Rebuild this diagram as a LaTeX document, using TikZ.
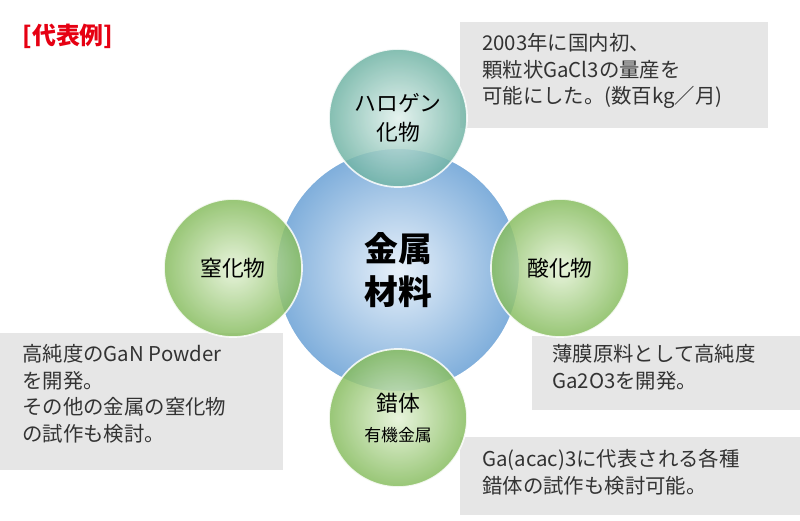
\documentclass[tikz,border=0pt]{standalone}
\usepackage{fontspec}
\setmainfont{Noto Sans CJK JP}
\usetikzlibrary{positioning}
\definecolor{boxgray}{HTML}{E6E6E6}
\definecolor{redtxt}{HTML}{E60012}
\definecolor{greenin}{HTML}{E4F2D6}
\definecolor{greenout}{HTML}{86BC5E}
\definecolor{tealin}{HTML}{E0F0EC}
\definecolor{tealout}{HTML}{6FB3A4}
\definecolor{bluein}{HTML}{E8F1FA}
\definecolor{blueout}{HTML}{7FAEDB}
\begin{document}
\begin{tikzpicture}[x=0.025cm,y=-0.025cm,
   note/.style={fill=boxgray,anchor=north west,align=left,inner sep=0pt,
    font=\fontsize{14.5}{19}\selectfont,text=black!80},
   ball/.style={circle,draw=white,line width=1.2pt,
    font=\fontsize{15.5}{21}\selectfont,align=center,opacity=0.85,text opacity=1},
   core/.style={circle,draw=white,line width=1.5pt,minimum size=6.1cm,
    inner color=bluein,outer color=blueout,font=\fontsize{24}{31}\bfseries\selectfont,align=center}
    ]
    \useasboundingbox (0,0) rectangle (800,520);

    % gray notes:
    \fill[boxgray] (460,22) rectangle (768,128);
    \fill[boxgray] (0,333) rectangle (283,470);
    \fill[boxgray] (532,336) rectangle (800,410);
    \fill[boxgray] (460,437) rectangle (800,515);
    \node[note] (nhal) at (482,33) {2003年に国内初、\\顆粒状GaCl3の量産を\\可能にした。(数百kg／月)};
    \node[note] (nnit) at (22,344) {高純度のGaN Powder\\を開発。\\その他の金属の窒化物\\の試作も検討。};
    \node[note] (noxi) at (552,344) {薄膜原料として高純度\\Ga2O3を開発。};
    \node[note] (ncpx) at (482,449) {Ga(acac)3に代表される各種\\錯体の試作も検討可能。};

    % title:
    \node[text=redtxt,font=\fontsize{17}{20}\bfseries\selectfont] (title) at (68,36) {[代表例]};

    % circles:
    \node[core] (metal) at (398,270) {金属\\材料};
    \node[ball,minimum size=3.45cm,inner color=tealin,outer color=tealout] (hal) at (398,118) {ハロゲン\\化物};
    \node[ball,minimum size=3.45cm,inner color=greenin,outer color=greenout] (nit) at (233,268) {窒化物};
    \node[ball,minimum size=3.45cm,inner color=greenin,outer color=greenout] (oxi) at (560,268) {酸化物};
    \node[ball,minimum size=3.45cm,inner color=greenin,outer color=greenout] (cpx) at (398,418) {錯体\\{\fontsize{12}{17}\selectfont 有機金属}};

\end{tikzpicture}
\end{document}
